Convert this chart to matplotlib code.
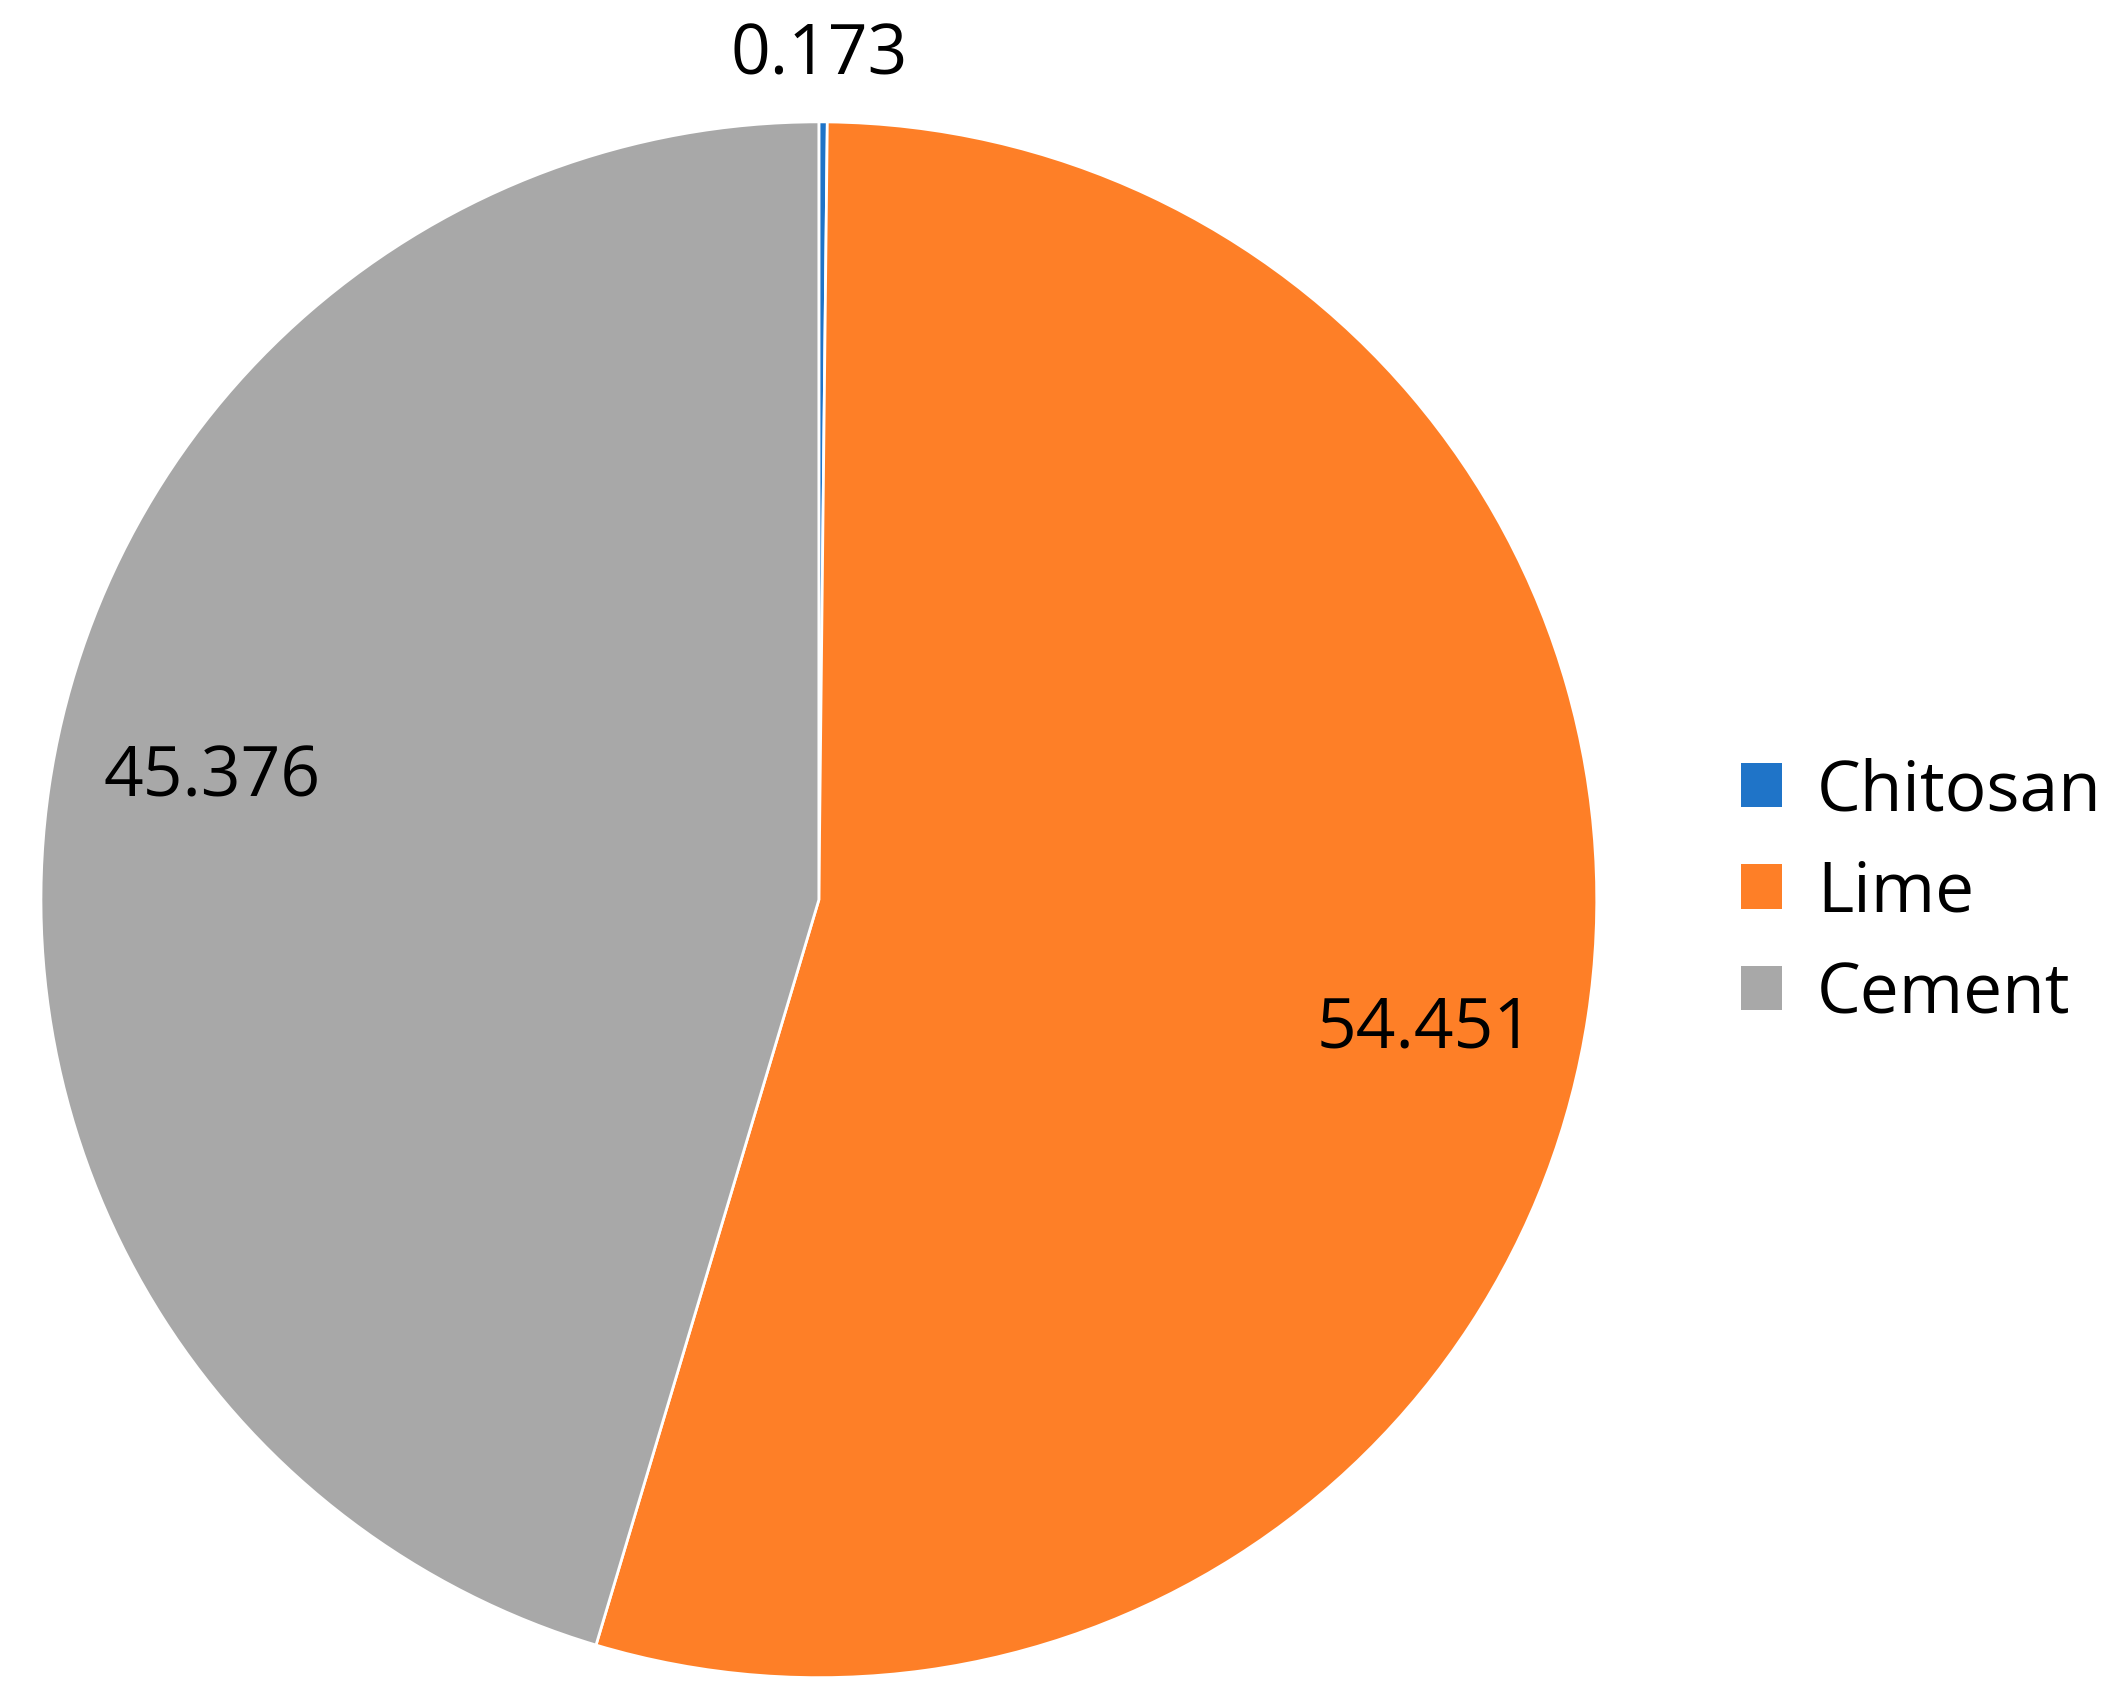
import matplotlib
matplotlib.use("Agg")
import matplotlib.pyplot as plt
from matplotlib.patches import Patch

categories = ["Chitosan", "Lime", "Cement"]
values = [0.173, 54.451, 45.376]
labels = ["0.173", "54.451", "45.376"]
colors = ["#1f74c8", "#fe7f27", "#a8a8a8"]

fig = plt.figure(figsize=(21.11, 17.06), dpi=100)
ax = fig.add_axes([0.0194, 0.016, 0.737, 0.912])
wedges, _ = ax.pie(values, colors=colors, startangle=90, counterclock=False,
                   wedgeprops=dict(edgecolor="white", linewidth=2))
ax.set_xlim(-1, 1); ax.set_ylim(-1, 1); ax.set_aspect("equal")

fs = 50
pos = [(0.0, 1.085), (0.78, -0.165), (-0.78, 0.157)]
for (x, y), t in zip(pos, labels):
    ax.text(x, y, t, ha="center", va="center", fontsize=fs, family="Open Sans")

handles = [Patch(facecolor=c, edgecolor="none") for c in colors]
fig.legend(handles, categories, loc="center left", bbox_to_anchor=(0.795, 0.476),
           frameon=False, prop=dict(family="Open Sans", size=fs),
           handlelength=0.6, handleheight=0.6, handletextpad=0.5, labelspacing=0.45)
fig.savefig("out.png", dpi=100)
